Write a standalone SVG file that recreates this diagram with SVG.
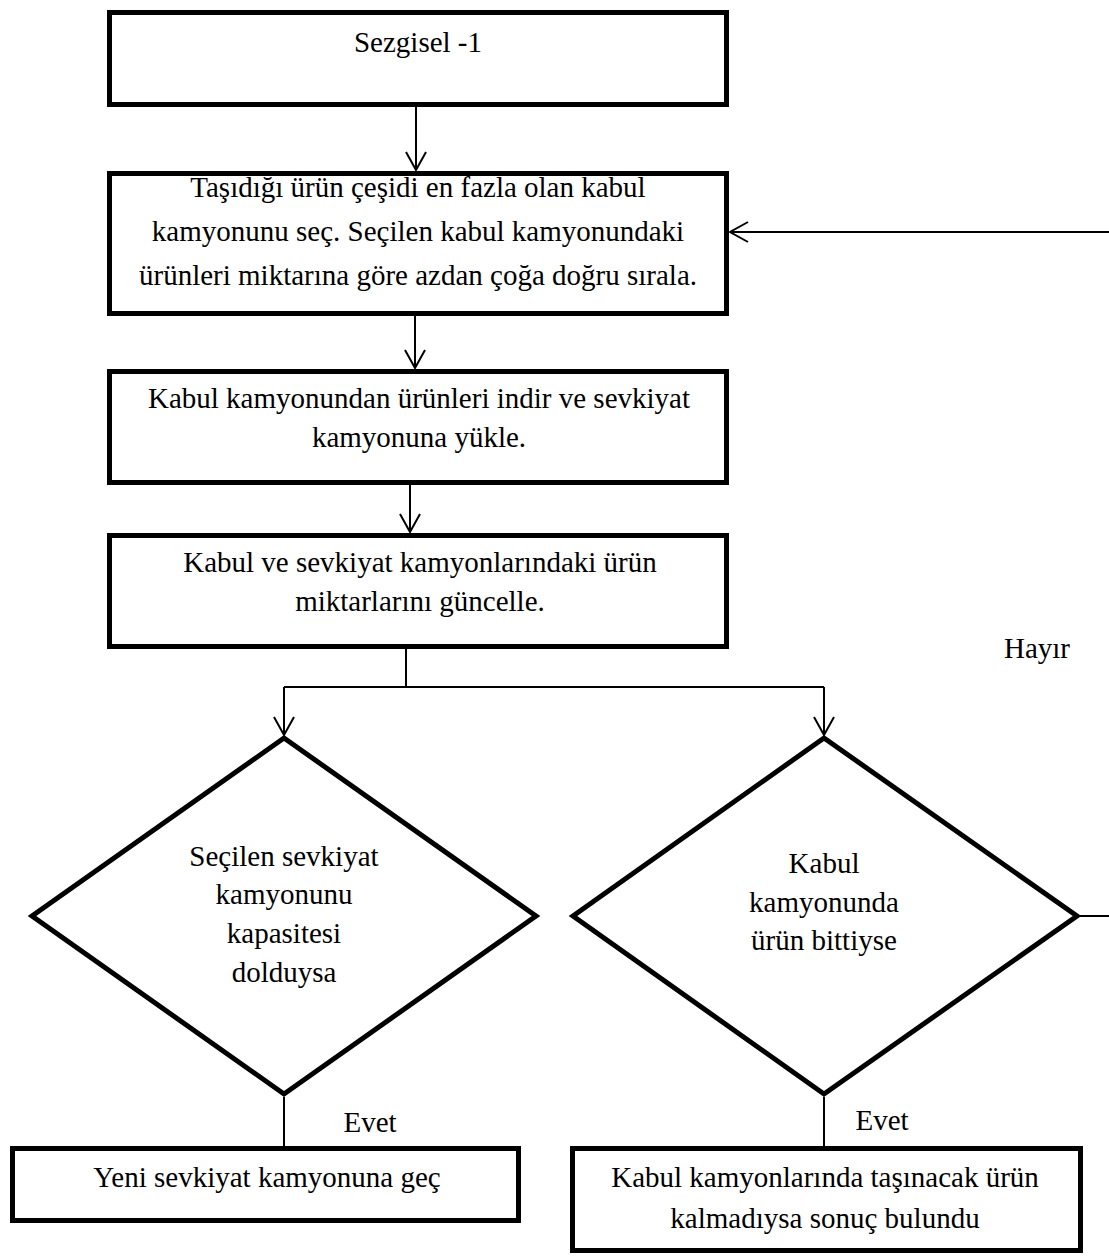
<svg xmlns="http://www.w3.org/2000/svg" width="1109" height="1257" viewBox="0 0 1109 1257">
  <style>
    .box { fill: none; stroke: #000; stroke-width: 5; }
    .conn { fill: none; stroke: #000; stroke-width: 2; }
    .t { font-family: "Liberation Serif", "Times New Roman", serif; font-size: 29px; fill: #000; text-anchor: middle; }
  </style>
  <defs>
    <marker id="arrow" markerUnits="userSpaceOnUse" markerWidth="22" markerHeight="26" viewBox="-20 -13 22 26" refX="0" refY="0" orient="auto">
      <path d="M-18,-10 L0,0 L-18,10" fill="none" stroke="#000" stroke-width="2"/>
    </marker>
  </defs>
  <rect width="1109" height="1257" fill="#fff"/>

  <g id="start">
    <rect class="box" x="109.5" y="12.5" width="617" height="92"/>
    <text class="t" x="418" y="52">Sezgisel -1</text>
  </g>

  <g id="select">
    <rect class="box" x="109.5" y="173.5" width="617" height="140"/>
    <text class="t" x="418" y="197">Taşıdığı ürün çeşidi en fazla olan kabul</text>
    <text class="t" x="418" y="241">kamyonunu seç. Seçilen kabul kamyonundaki</text>
    <text class="t" x="418" y="285">ürünleri miktarına göre azdan çoğa doğru sırala.</text>
  </g>

  <g id="unload">
    <rect class="box" x="109.5" y="371.5" width="617" height="111"/>
    <text class="t" x="419" y="408">Kabul kamyonundan ürünleri indir ve sevkiyat</text>
    <text class="t" x="419" y="447">kamyonuna yükle.</text>
  </g>

  <g id="update">
    <rect class="box" x="109.5" y="535.5" width="617" height="111"/>
    <text class="t" x="420" y="572">Kabul ve sevkiyat kamyonlarındaki ürün</text>
    <text class="t" x="420" y="611">miktarlarını güncelle.</text>
  </g>

  <g id="decision-capacity">
    <polygon class="box" points="284,738 536,916 284,1094 32,916"/>
    <text class="t" x="284" y="866">Seçilen sevkiyat</text>
    <text class="t" x="284" y="904">kamyonunu</text>
    <text class="t" x="284" y="943">kapasitesi</text>
    <text class="t" x="284" y="982">dolduysa</text>
  </g>

  <g id="decision-empty">
    <polygon class="box" points="824,738 1077,916 824,1094 573,916"/>
    <text class="t" x="824" y="873">Kabul</text>
    <text class="t" x="824" y="912">kamyonunda</text>
    <text class="t" x="824" y="950">ürün bittiyse</text>
  </g>

  <g id="next-truck">
    <rect class="box" x="12.5" y="1148.5" width="506" height="72"/>
    <text class="t" x="267" y="1187">Yeni sevkiyat kamyonuna geç</text>
  </g>

  <g id="result">
    <rect class="box" x="572.5" y="1148.5" width="508" height="102"/>
    <text class="t" x="825" y="1187">Kabul kamyonlarında taşınacak ürün</text>
    <text class="t" x="825" y="1228">kalmadıysa sonuç bulundu</text>
  </g>

  <g id="connectors">
    <line class="conn" x1="416" y1="107" x2="416" y2="170" marker-end="url(#arrow)"/>
    <line class="conn" x1="415" y1="316" x2="415" y2="368" marker-end="url(#arrow)"/>
    <line class="conn" x1="410" y1="485" x2="410" y2="532" marker-end="url(#arrow)"/>
    <line class="conn" x1="406" y1="649" x2="406" y2="687"/>
    <line class="conn" x1="284" y1="687" x2="824" y2="687"/>
    <line class="conn" x1="284" y1="687" x2="284" y2="735" marker-end="url(#arrow)"/>
    <line class="conn" x1="824" y1="687" x2="824" y2="735" marker-end="url(#arrow)"/>
    <line class="conn" x1="284" y1="1097" x2="284" y2="1146"/>
    <line class="conn" x1="824" y1="1097" x2="824" y2="1146"/>
    <line class="conn" x1="1080" y1="916" x2="1109" y2="916"/>
    <line class="conn" x1="1109" y1="232" x2="730" y2="232" marker-end="url(#arrow)"/>
    <text class="t" x="1037" y="658">Hayır</text>
    <text class="t" x="370" y="1132">Evet</text>
    <text class="t" x="882" y="1130">Evet</text>
  </g>
</svg>
